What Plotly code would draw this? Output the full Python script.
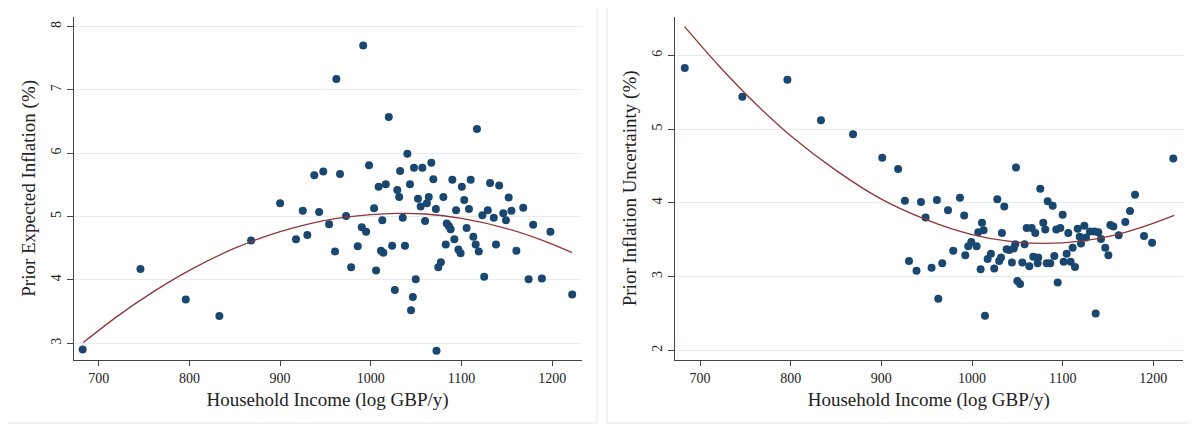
import plotly.graph_objects as go

# ---- Left panel: Prior Expected Inflation vs Household Income (binned) ----
income_left = [682.3, 746, 796, 833, 868, 900, 917.5, 925, 930, 937.7, 943, 947.6, 954, 960.5, 962,
               966, 972.7, 978.3, 985.6, 990, 991.6, 994.8, 998, 1003.6, 1005.8, 1008.6, 1011.2, 1012.7,
               1013.8, 1016.5, 1019.8, 1023.5, 1026.5, 1029.2, 1031.3, 1032.3, 1035.2, 1037.7, 1040.3,
               1043.2, 1044.3, 1046.3, 1047.6, 1049.5, 1052, 1055, 1056.8, 1059.8, 1061.8, 1063.9, 1066.7,
               1068.9, 1071.7, 1072.4, 1074.4, 1077.2, 1080, 1082.6, 1083.7, 1086, 1088, 1089.9, 1092.1,
               1094, 1096.6, 1099, 1100.4, 1103, 1105.6, 1108.2, 1110.1, 1113, 1115.6, 1117, 1119, 1123,
               1125, 1129, 1131.5, 1135.6, 1138, 1141.5, 1146, 1149, 1152, 1155, 1160.5, 1168, 1174, 1179,
               1188.6, 1198, 1222]
expected_inflation = [2.90, 4.17, 3.69, 3.43, 4.62, 5.21, 4.64, 5.09, 4.71, 5.65, 5.07, 5.71, 4.88, 4.45, 7.17,
                      5.67, 5.01, 4.20, 4.53, 4.83, 7.70, 4.76, 5.81, 5.13, 4.15, 5.47, 4.46, 4.94,
                      4.43, 5.51, 6.57, 4.54, 3.84, 5.42, 5.31, 5.72, 4.98, 4.54, 5.99,
                      5.51, 3.52, 3.73, 5.77, 4.01, 5.28, 5.16, 5.77, 4.93, 5.21, 5.31, 5.85,
                      5.59, 5.12, 2.88, 4.20, 4.28, 5.31, 4.56, 4.89, 4.85, 4.80, 5.58, 4.64,
                      5.10, 4.48, 4.42, 5.47, 5.26, 4.82, 5.12, 5.58, 4.68, 4.56, 6.38, 4.45, 5.02,
                      4.05, 5.10, 5.53, 4.98, 4.56, 5.49, 5.05, 4.94, 5.30, 5.09, 4.46, 5.14, 4.01, 4.87,
                      4.02, 4.76, 3.77]
# quadratic fit line
fit_left_x = [683, 720, 760, 800, 850, 900, 950, 1000, 1030, 1060, 1100, 1150, 1190, 1222]
fit_left_y = [3.01, 3.42, 3.81, 4.15, 4.50, 4.76, 4.94, 5.03, 5.05, 5.04, 4.97, 4.81, 4.62, 4.43]

# ---- Right panel: Prior Inflation Uncertainty vs Household Income (binned) ----
income_right = [683.2, 746.7, 796.4, 833.4, 868.8, 901.0, 918.5, 926, 930.5, 938.8, 943.7, 948.8, 955.4,
                961.3, 962.8, 967.2, 973.5, 979.3, 986.7, 991.4, 992.6, 995.9, 999.2, 1005.1, 1006.9,
                1009.5, 1011, 1012.8, 1014.3, 1017.2, 1020.9, 1024.5, 1027.9, 1030, 1032, 1033, 1035.6,
                1038.2, 1041, 1044, 1046, 1047.7, 1048.5, 1050, 1053, 1055.5, 1058, 1060.3, 1063.2,
                1065.8, 1067.6, 1069.8, 1072.4, 1073.1, 1075.3, 1078.6, 1080.8, 1082.4, 1083.5, 1086.3,
                1089, 1090.8, 1093, 1094.5, 1097.4, 1100, 1101.1, 1104.4, 1106.2, 1108.8, 1111, 1113.6,
                1116.6, 1118.8, 1120.2, 1123.9, 1125.7, 1130.1, 1134.9, 1136.4, 1139.3, 1142.3, 1147,
                1150.4, 1152.6, 1155.9, 1161.8, 1169.1, 1174.3, 1179.8, 1189.7, 1198.6, 1222]
inflation_uncertainty = [5.83, 5.44, 5.67, 5.12, 4.93, 4.61, 4.46, 4.03, 3.21, 3.08, 4.01, 3.80, 3.12,
                         4.04, 2.70, 3.18, 3.90, 3.35, 4.07, 3.83, 3.29, 3.41, 3.47, 3.41, 3.60,
                         3.10, 3.73, 3.63, 2.47, 3.24, 3.31, 3.11, 4.05, 3.21, 3.26, 3.59, 3.95,
                         3.37, 3.36, 3.19, 3.38, 3.44, 4.48, 2.94, 2.90, 3.19, 3.44, 3.66, 3.14,
                         3.66, 3.27, 3.59, 3.18, 3.26, 4.19, 3.73, 3.64, 3.18, 4.02, 3.18,
                         3.96, 3.28, 3.64, 2.92, 3.66, 3.84, 3.20, 3.31, 3.59, 3.20, 3.39, 3.13,
                         3.65, 3.54, 3.45, 3.69, 3.53, 3.61, 3.61, 2.50, 3.60, 3.51, 3.39,
                         3.29, 3.70, 3.68, 3.56, 3.74, 3.89, 4.11, 3.55, 3.46, 4.60]
fit_right_x = [683, 720, 760, 800, 850, 900, 950, 1000, 1040, 1080, 1120, 1160, 1190, 1223]
fit_right_y = [6.39, 5.87, 5.36, 4.91, 4.44, 4.05, 3.77, 3.57, 3.48, 3.45, 3.48, 3.57, 3.68, 3.83]

x_ticks = [700, 800, 900, 1000, 1100, 1200]
left_y_ticks = [3, 4, 5, 6, 7, 8]
right_y_ticks = [2, 3, 4, 5, 6]

MARKER = "#1a476f"
LINE = "#90353b"
GRID = "#e4edef"
AXIS = "#444444"
FONT = "Liberation Serif"

W, H = 1198, 425
OFF = 8  # page body margin offset
def px(x):
    return (x - OFF) / W
def py(y):
    return 1 - (y - OFF) / H

fig = go.Figure()

fig.add_trace(go.Scatter(x=income_left, y=expected_inflation, mode="markers",
                         marker=dict(color=MARKER, size=8), xaxis="x", yaxis="y", showlegend=False))
fig.add_trace(go.Scatter(x=fit_left_x, y=fit_left_y, mode="lines", line=dict(color=LINE, width=1.3, shape="spline"),
                         xaxis="x", yaxis="y", showlegend=False))
fig.add_trace(go.Scatter(x=income_right, y=inflation_uncertainty, mode="markers",
                         marker=dict(color=MARKER, size=8), xaxis="x2", yaxis="y2", showlegend=False))
fig.add_trace(go.Scatter(x=fit_right_x, y=fit_right_y, mode="lines", line=dict(color=LINE, width=1.3, shape="spline"),
                         xaxis="x2", yaxis="y2", showlegend=False))

xcommon = dict(range=[672.2, 1232.5], tickvals=x_ticks, showgrid=False, zeroline=False,
               showline=True, linecolor=AXIS, linewidth=1, ticks="outside", ticklen=5,
               tickcolor=AXIS, tickfont=dict(family=FONT, size=14, color="#222"),
               title=dict(text="Household Income (log GBP/y)", font=dict(family=FONT, size=19, color="#222"),
                          standoff=8))
ycommon = dict(showgrid=True, gridcolor=GRID, gridwidth=1, zeroline=False,
               showline=True, linecolor=AXIS, linewidth=1, ticks="outside", ticklen=6,
               tickcolor=AXIS, tickangle=-90, tickfont=dict(family=FONT, size=14, color="#222"))

yd = [py(359.7), py(17)]
fig.update_layout(
    width=W, height=H, margin=dict(l=0, r=0, t=0, b=0),
    paper_bgcolor="white", plot_bgcolor="white",
    xaxis=dict(domain=[px(73.5), px(581.7)], anchor="y", **xcommon),
    yaxis=dict(domain=yd, anchor="x", range=[2.74, 8.15], tickvals=left_y_ticks,
               title=dict(text="Prior Expected Inflation (%)", font=dict(family=FONT, size=19, color="#222"),
                          standoff=8), **ycommon),
    xaxis2=dict(domain=[px(674.8), px(1182.8)], anchor="y2", **xcommon),
    yaxis2=dict(domain=yd, anchor="x2", range=[1.873, 6.52], tickvals=right_y_ticks,
                title=dict(text="Prior Inflation Uncertainty (%)", font=dict(family=FONT, size=19, color="#222"),
                           standoff=8), **ycommon),
)

# light frames around each panel
for (x0, x1) in [(7, 597), (607, 1195)]:
    fig.add_shape(type="rect", xref="paper", yref="paper", x0=px(x0), x1=px(x1), y0=py(423), y1=py(3),
                  line=dict(color="#e6e6e6", width=1), fillcolor="rgba(0,0,0,0)", layer="below")

fig.write_html("out.html")
